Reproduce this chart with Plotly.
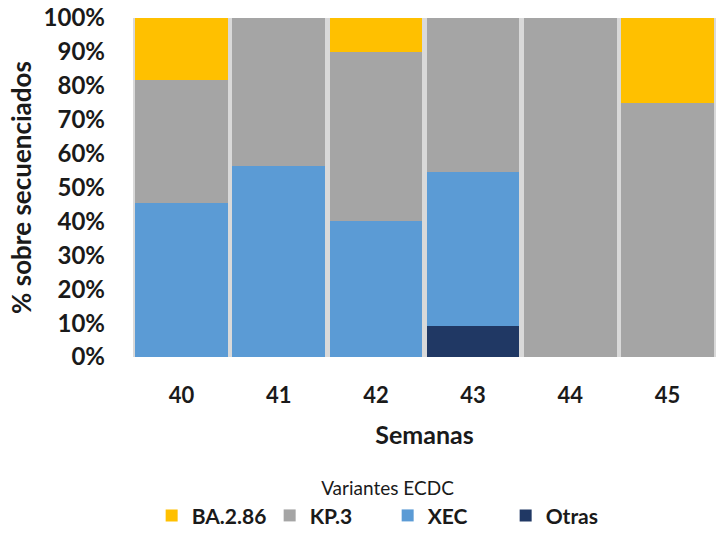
import plotly.graph_objects as go

semanas = ["40", "41", "42", "43", "44", "45"]
otras = [0, 0, 0, 9.1, 0, 0]
xec = [45.5, 56.3, 40.0, 45.4, 0, 0]
kp3 = [36.3, 43.7, 50.0, 45.5, 100.0, 75.0]
ba286 = [18.2, 0, 10.0, 0, 0, 25.0]
y_ticks = [0, 10, 20, 30, 40, 50, 60, 70, 80, 90, 100]

series = [
    ("Otras", otras, "#203864"),
    ("XEC", xec, "#5B9BD5"),
    ("KP.3", kp3, "#A5A5A5"),
    ("BA.2.86", ba286, "#FFC000"),
]

font_family = "Lato, 'Open Sans', sans-serif"

fig = go.Figure()
for name, vals, color in series:
    fig.add_trace(go.Bar(
        x=semanas, y=vals, name=name,
        marker=dict(color=color, line=dict(width=0)),
    ))

fig.update_layout(
    barmode="stack",
    bargap=0.045,
    width=716, height=535,
    margin=dict(l=133, r=0, t=18, b=178, autoexpand=False),
    paper_bgcolor="white",
    plot_bgcolor="#D9D9D9",
    font=dict(family=font_family, color="#1a1a1a"),
    showlegend=True,
    legend=dict(
        orientation="h",
        traceorder="reversed",
        x=0.032, xanchor="left",
        y=-0.335, yanchor="top",
        title=dict(text="Variantes ECDC", side="top center",
                   font=dict(size=19, family=font_family, weight="normal")),
        font=dict(size=21, family=font_family, weight="bold"),
        itemwidth=30,
        entrywidth=73,
    ),
    xaxis=dict(
        type="category",
        tickfont=dict(size=22, weight="bold"),
        ticklabelstandoff=23,
        title=dict(text="Semanas", font=dict(size=25, weight="bold"), standoff=19),
        showline=False,
        showgrid=False,
        automargin=False,
    ),
    yaxis=dict(
        range=[0, 100],
        tickvals=y_ticks,
        ticktext=[f"{v}%" for v in y_ticks],
        tickfont=dict(size=24, weight="bold"),
        ticklabelstandoff=27,
        ticklabeloverflow="allow",
        title=dict(text="% sobre secuenciados", font=dict(size=26, weight="bold"), standoff=4),
        showgrid=False,
        zeroline=False,
        automargin=False,
    ),
)

fig.write_html(
    "out.html",
    config={"displayModeBar": False},
    post_script="document.body.style.margin='0';document.body.style.padding='0';",
)
